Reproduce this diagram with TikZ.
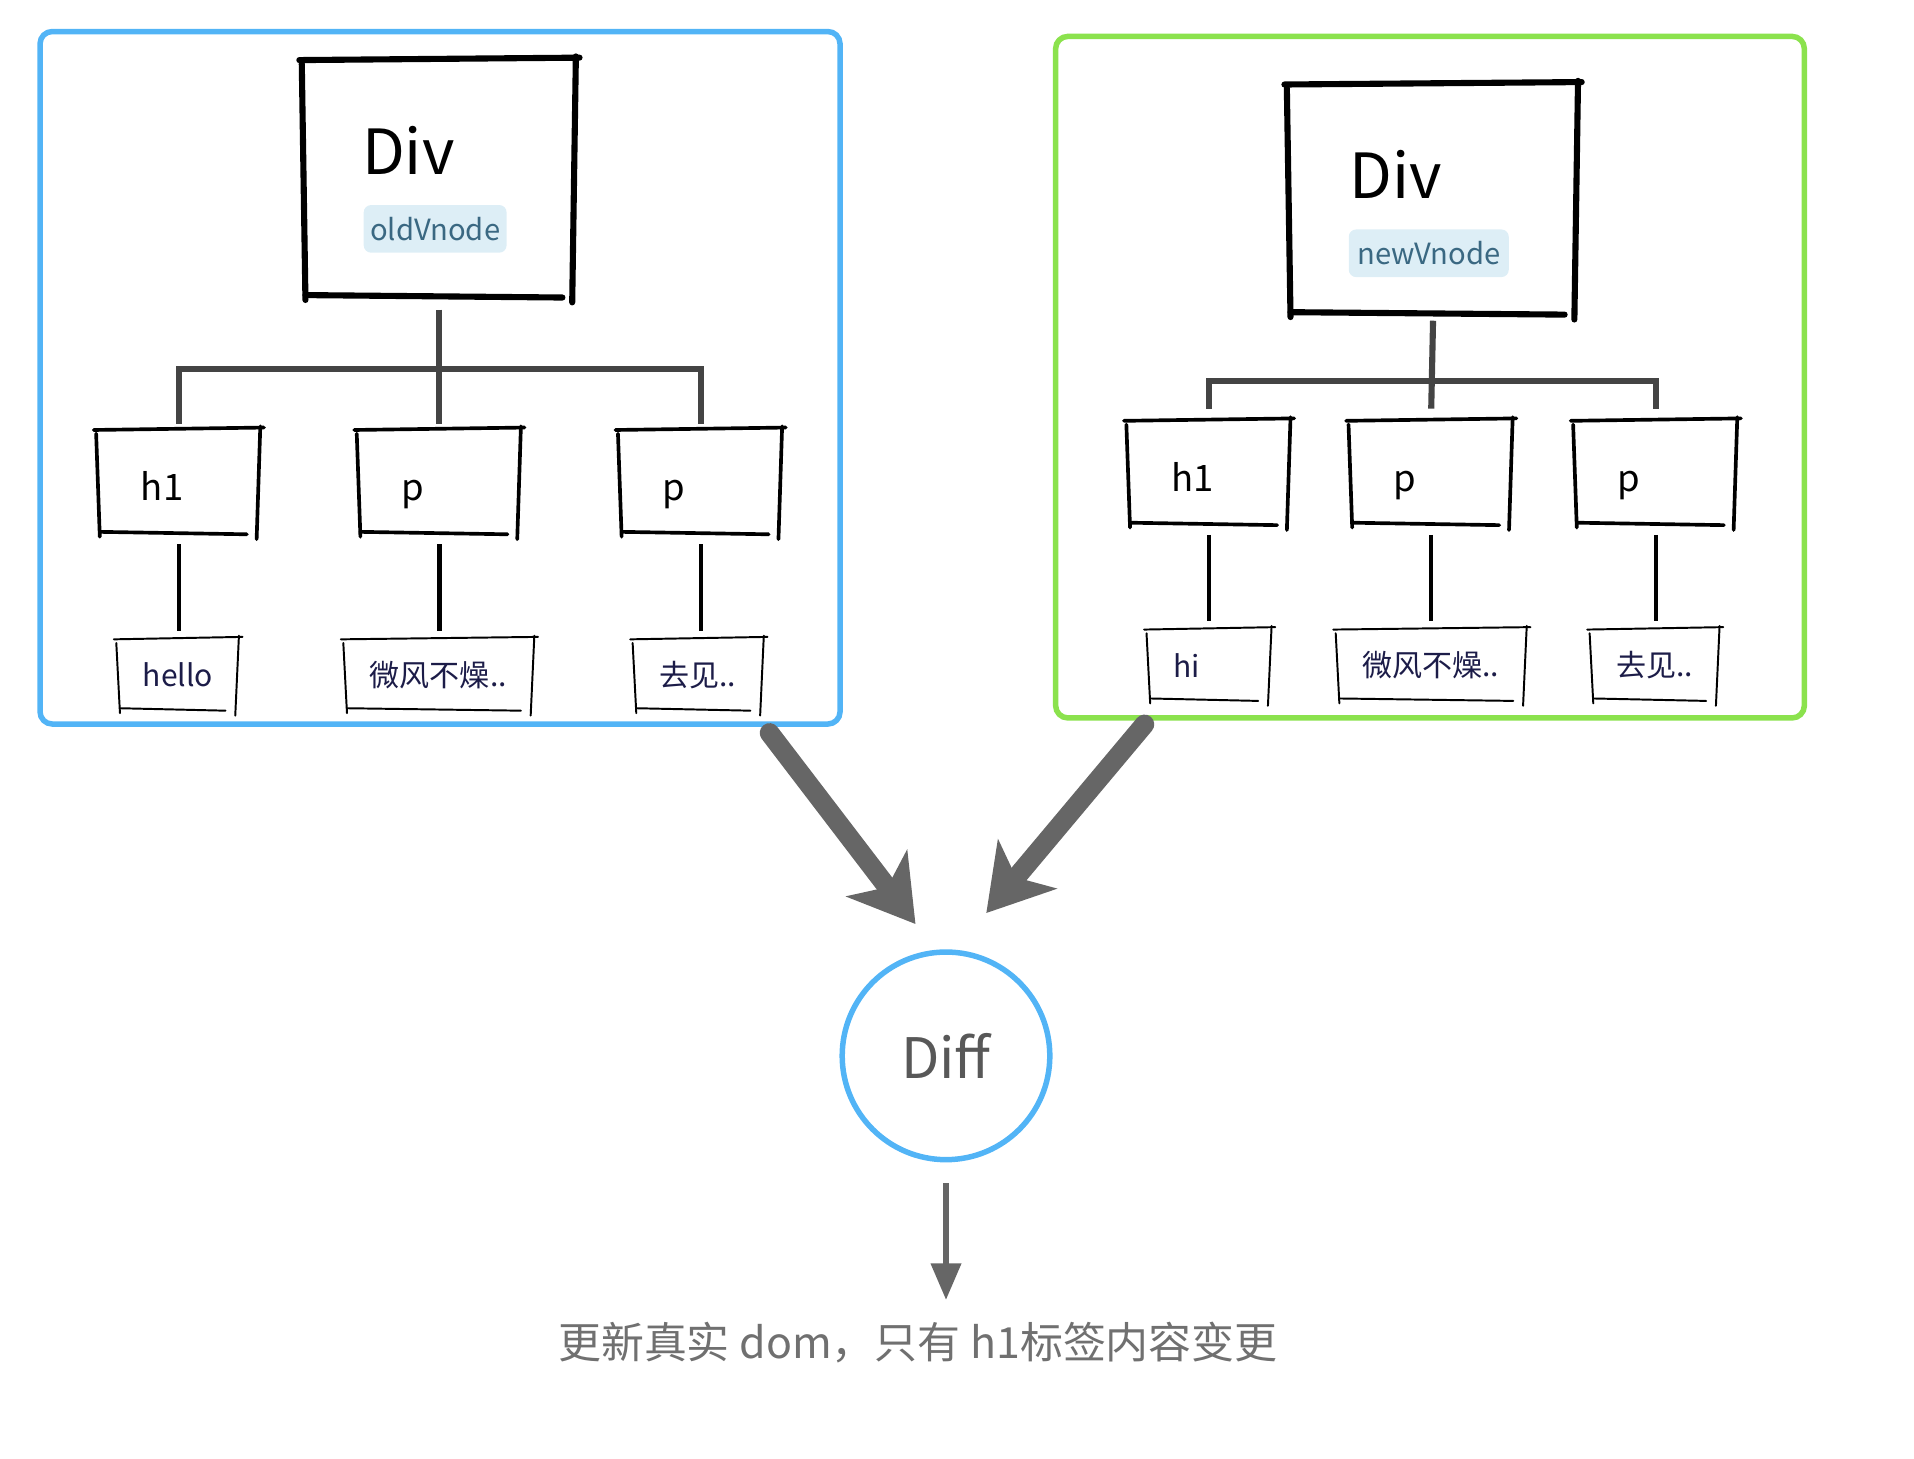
\documentclass[tikz,border=0pt]{standalone}
\usepackage{fontspec}
\setmainfont{Noto Sans CJK SC}
\usetikzlibrary{arrows.meta}

\definecolor{frameBlue}{RGB}{82,180,246}
\definecolor{frameGreen}{RGB}{139,226,77}
\definecolor{tagFill}{RGB}{221,238,246}
\definecolor{tagText}{RGB}{58,104,130}
\definecolor{trunkGray}{RGB}{68,68,68}
\definecolor{arrowGray}{RGB}{102,102,102}
\definecolor{leafText}{RGB}{28,28,72}
\definecolor{diffText}{RGB}{88,88,88}
\definecolor{resultText}{RGB}{112,112,112}

\tikzstyle{treeFrame}=[shape=rectangle,rounded corners=0.1cm,line width=0.045cm]
\tikzstyle{divBox}=[shape=rectangle,draw=none]
\tikzstyle{divLabel}=[anchor=base west,inner sep=0pt,font=\fontsize{14.5}{17}\selectfont]
\tikzstyle{vnodeTag}=[shape=rectangle,rounded corners=0.06cm,fill=tagFill,text=tagText,minimum height=0.39cm,inner sep=0pt,font=\fontsize{6.8}{8}\selectfont]
\tikzstyle{elemBox}=[shape=rectangle,minimum width=1.34cm,minimum height=0.84cm,inner xsep=0.36cm,text width=0.62cm,text height=0.35cm,text depth=0.05cm,align=left,font=\fontsize{8.5}{10}\selectfont]
\tikzstyle{leafBox}=[shape=rectangle,minimum height=0.57cm,inner xsep=0.21cm,inner ysep=0pt,align=left,text=leafText,font=\fontsize{7}{8.5}\selectfont]
\tikzstyle{trunk}=[draw=trunkGray,line width=0.05cm]
\tikzstyle{stem}=[draw=black,line width=0.035cm]
\tikzstyle{bigArrow}=[draw=arrowGray,line width=0.16cm,line cap=round,-{Stealth[length=0.52cm,width=0.62cm,inset=0.14cm]}]
\tikzstyle{smallArrow}=[draw=arrowGray,line width=0.05cm,-{Triangle[length=0.3cm,width=0.24cm]}]
\tikzstyle{diffCircle}=[shape=circle,draw=frameBlue,line width=0.045cm,minimum size=1.7cm,text=diffText,font=\fontsize{13}{16}\selectfont]

% hand drawn border round a node
\newcommand{\sketchbox}[2]{%
  \draw[line width=#2,line cap=round] ([shift={(-2,0)}]#1.north west) -- ([shift={(2,-2)}]#1.north east);
  \draw[line width=#2,line cap=round] ([shift={(-1,-3)}]#1.north east) -- ([shift={(-4,4)}]#1.south east);
  \draw[line width=#2,line cap=round] ([shift={(-12,0)}]#1.south east) -- ([shift={(3,-2)}]#1.south west);
  \draw[line width=#2,line cap=round] ([shift={(3,2)}]#1.south west) -- ([shift={(0,3)}]#1.north west);
}

\begin{document}
\begin{tikzpicture}[x=0.01cm,y=-0.01cm]
        \useasboundingbox (0,0) rectangle (1568,1195);

        % old vnode
        \node[treeFrame,draw=frameBlue,minimum width=6.55cm,minimum height=5.67cm] (oldTree) at (360.5,309.5) {};
        \node[divBox,minimum width=2.24cm,minimum height=1.93cm] (divL) at (360,146.5) {};
        \node[divLabel] (divLtxt) at (296,143) {Div};
        \node[vnodeTag,minimum width=1.17cm] (tagL) at (356.5,187.5) {oldVnode};
        \sketchbox{divL}{0.05cm}

        \node[elemBox] (hL)  at (146.5,395) {h1};
        \node[elemBox] (pL1) at (360,395)   {p};
        \node[elemBox] (pL2) at (574,395)   {p};
        \sketchbox{hL}{0.03cm}
        \sketchbox{pL1}{0.03cm}
        \sketchbox{pL2}{0.03cm}

        \node[leafBox,text width=0.58cm] (leafL1) at (146,553)   {hello};
        \node[leafBox,text width=1.14cm] (leafL2) at (360,553)   {微风不燥..};
        \node[leafBox,text width=0.65cm] (leafL3) at (572.5,553) {去见..};
        \sketchbox{leafL1}{0.016cm}
        \sketchbox{leafL2}{0.016cm}
        \sketchbox{leafL3}{0.016cm}

        \coordinate (barL) at (359,302);
        \draw [trunk] ([yshift=-0.1cm]divL.south) -- ([yshift=0.05cm]pL1.north);
        \draw [trunk] ([yshift=0.05cm]hL.north) |- (barL) -| ([yshift=0.05cm]pL2.north);
        \draw [stem] ([yshift=-0.08cm]hL.south) -- ([yshift=0.07cm]hL.south |- leafL1.north);
        \draw [stem] ([yshift=-0.08cm]pL1.south) -- ([yshift=0.07cm]pL1.south |- leafL2.north);
        \draw [stem] ([yshift=-0.08cm]pL2.south) -- ([yshift=0.07cm]pL2.south |- leafL3.north);

        % new vnode
        \node[treeFrame,draw=frameGreen,minimum width=6.13cm,minimum height=5.58cm] (newTree) at (1171.5,309) {};
        \node[divBox,minimum width=2.38cm,minimum height=1.87cm] (divR) at (1174,163.5) {};
        \node[divLabel] (divRtxt) at (1105,163) {Div};
        \node[vnodeTag,minimum width=1.31cm] (tagR) at (1170.5,207.5) {newVnode};
        \sketchbox{divR}{0.05cm}

        \node[elemBox] (hR)  at (990.5,387.5)  {h1};
        \node[elemBox] (pR1) at (1172.5,387.5) {p};
        \node[elemBox] (pR2) at (1356.5,387.5) {p};
        \sketchbox{hR}{0.03cm}
        \sketchbox{pR1}{0.03cm}
        \sketchbox{pR2}{0.03cm}

        \node[leafBox,text width=0.60cm] (leafR1) at (991,545)  {hi};
        \node[leafBox,text width=1.14cm] (leafR2) at (1173,545) {微风不燥..};
        \node[leafBox,text width=0.64cm] (leafR3) at (1356,545) {去见..};
        \sketchbox{leafR1}{0.016cm}
        \sketchbox{leafR2}{0.016cm}
        \sketchbox{leafR3}{0.016cm}

        \coordinate (barR) at (1174,312);
        \draw [trunk] ([yshift=-0.05cm]divR.south) -- ([yshift=0.1cm]pR1.north);
        \draw [trunk] ([yshift=0.1cm]hR.north) |- (barR) -| ([yshift=0.1cm]pR2.north);
        \draw [stem] ([yshift=-0.08cm]hR.south) -- ([yshift=0.07cm]hR.south |- leafR1.north);
        \draw [stem] ([yshift=-0.08cm]pR1.south) -- ([yshift=0.07cm]pR1.south |- leafR2.north);
        \draw [stem] ([yshift=-0.08cm]pR2.south) -- ([yshift=0.07cm]pR2.south |- leafR3.north);

        % diff
        \node[diffCircle] (diff) at (775,865) {Diff};
        \node[text=resultText,font=\fontsize{10}{12}\selectfont] (result) at (752,1100) {更新真实 dom，只有 h1标签内容变更};

        \coordinate (inOld) at (750,757);
        \coordinate (inNew) at (808,748);
        \coordinate (outTip) at (775,1065);

        \draw [bigArrow] ([xshift=-0.6cm,yshift=-0.05cm]oldTree.south east) to (inOld);
        \draw [bigArrow] ([xshift=0.75cm,yshift=-0.03cm]newTree.south west) to (inNew);
        \draw [smallArrow] ([yshift=-0.17cm]diff.south) to (outTip);
\end{tikzpicture}
\end{document}
